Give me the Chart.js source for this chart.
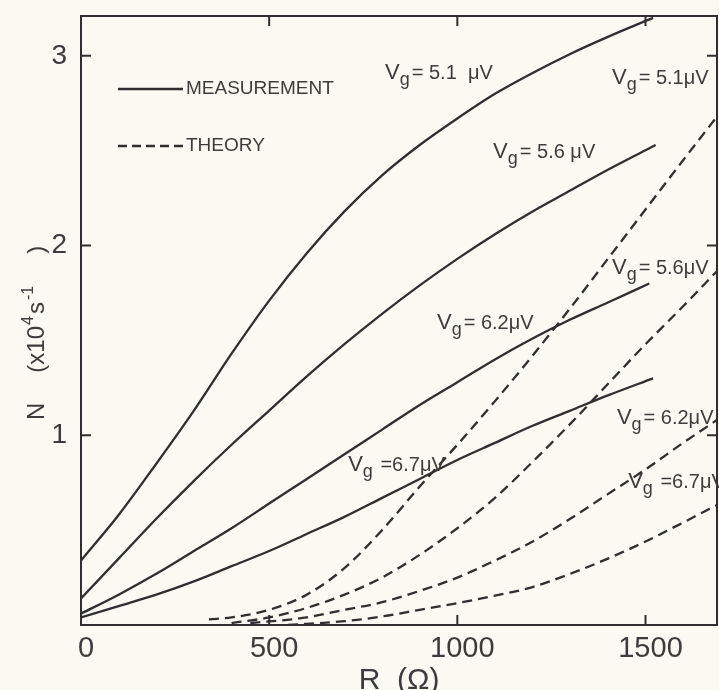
<!DOCTYPE html>
<html>
<head>
<meta charset="utf-8">
<script src="https://cdn.jsdelivr.net/npm/chart.js@4.4.1/dist/chart.umd.min.js"></script>
<style>
	html, body { margin: 0; padding: 0; background: #fafaf2; }
	#wrap { width: 719px; height: 690px; }
</style>
</head>
<body>
<div id="wrap"><canvas id="nChart" width="719" height="690"></canvas></div>
<script>
const meas51R = [0, 100, 200, 300, 400, 500, 600, 700, 800, 900, 1000, 1100, 1200, 1300, 1400, 1520];
const meas51N = [0.34, 0.58, 0.85, 1.13, 1.43, 1.71, 1.96, 2.18, 2.37, 2.53, 2.67, 2.80, 2.91, 3.01, 3.10, 3.20];
const meas56R = [0, 100, 200, 300, 400, 500, 600, 700, 800, 900, 1000, 1100, 1200, 1300, 1400, 1527];
const meas56N = [0.14, 0.35, 0.56, 0.76, 0.95, 1.13, 1.31, 1.48, 1.64, 1.79, 1.93, 2.06, 2.18, 2.29, 2.40, 2.53];
const meas62R = [0, 100, 200, 300, 400, 500, 600, 700, 800, 900, 1000, 1100, 1200, 1300, 1400, 1510];
const meas62N = [0.06, 0.16, 0.27, 0.39, 0.51, 0.64, 0.77, 0.90, 1.03, 1.16, 1.28, 1.40, 1.51, 1.61, 1.70, 1.80];
const meas67R = [0, 100, 200, 300, 400, 500, 600, 700, 800, 900, 1000, 1100, 1200, 1300, 1400, 1520];
const meas67N = [0.04, 0.10, 0.16, 0.23, 0.31, 0.39, 0.48, 0.57, 0.67, 0.77, 0.87, 0.96, 1.05, 1.13, 1.21, 1.30];

// theory curves
const theo51R = [340, 400, 500, 600, 700, 800, 900, 1000, 1100, 1200, 1300, 1400, 1500, 1600, 1694];
const theo51N = [0.03, 0.04, 0.08, 0.16, 0.30, 0.50, 0.73, 0.95, 1.18, 1.42, 1.67, 1.93, 2.19, 2.45, 2.69];
const theo56R = [400, 500, 600, 700, 800, 900, 1000, 1100, 1200, 1300, 1400, 1500, 1600, 1697];
const theo56N = [0.01, 0.04, 0.09, 0.16, 0.25, 0.37, 0.51, 0.67, 0.86, 1.06, 1.27, 1.48, 1.68, 1.88];
const theo62R = [450, 600, 700, 800, 900, 1000, 1100, 1200, 1300, 1400, 1500, 1600, 1697];
const theo62N = [0.01, 0.04, 0.08, 0.12, 0.18, 0.25, 0.34, 0.44, 0.56, 0.69, 0.82, 0.96, 1.09];
const theo67R = [550, 700, 800, 900, 1000, 1100, 1200, 1300, 1400, 1500, 1600, 1697];
const theo67N = [0.0, 0.02, 0.045, 0.08, 0.115, 0.155, 0.20, 0.27, 0.35, 0.44, 0.54, 0.64];

const xTickVals = [0, 500, 1000, 1500];
const yTickVals = [1, 2, 3];

// curve labels: value part, anchor R, anchor N
const labelVals = ['= 5.1  μV', '= 5.6 μV', '= 5.1μV', '= 5.6μV', '= 6.2μV', ' =6.7μV', '= 6.2μV', ' =6.7μV'];
const labelR = [808, 1095, 1411, 1411, 946, 710, 1424, 1454];
const labelN = [2.88, 2.46, 2.85, 1.85, 1.56, 0.81, 1.06, 0.72];

const ink = '#2f2f2f';
const textInk = '#3c3c3c';
const fontFam = '"Liberation Sans", Arial, sans-serif';

const zip = (r, n) => r.map((v, i) => ({ x: v, y: n[i] }));

function curve(r, n, dashed) {
	return {
		data: zip(r, n),
		borderColor: ink,
		borderWidth: 2.3,
		borderDash: dashed ? [10, 6] : [],
		pointRadius: 0,
		fill: false,
		cubicInterpolationMode: 'monotone'
	};
}

const paperPlugin = {
	id: 'paper',
	beforeDraw(chart) {
		const ctx = chart.ctx;
		ctx.save();
		ctx.fillStyle = '#fafaf2';
		ctx.fillRect(0, 0, chart.width, chart.height);
		ctx.restore();
	},
	afterDraw(chart) {
		const { ctx, chartArea: a, scales: { x, y } } = chart;
		ctx.save();
		ctx.strokeStyle = ink;
		ctx.lineWidth = 2;
		ctx.setLineDash([]);
		ctx.strokeRect(a.left, a.top, a.right - a.left, a.bottom - a.top);

		// inward ticks on all four sides
		ctx.beginPath();
		xTickVals.filter(v => v > 0).forEach(v => {
			const px = x.getPixelForValue(v);
			ctx.moveTo(px, a.bottom); ctx.lineTo(px, a.bottom - 10);
			ctx.moveTo(px, a.top); ctx.lineTo(px, a.top + 10);
		});
		yTickVals.forEach(v => {
			const py = y.getPixelForValue(v);
			ctx.moveTo(a.left, py); ctx.lineTo(a.left + 10, py);
			ctx.moveTo(a.right, py); ctx.lineTo(a.right - 10, py);
		});
		ctx.stroke();

		// curve labels  V_g = ...
		ctx.fillStyle = textInk;
		ctx.textBaseline = 'alphabetic';
		labelVals.forEach((txt, i) => {
			let px = x.getPixelForValue(labelR[i]);
			const py = y.getPixelForValue(labelN[i]);
			ctx.font = '22px ' + fontFam;
			ctx.fillText('V', px, py);
			px += ctx.measureText('V').width;
			ctx.font = '18px ' + fontFam;
			ctx.fillText('g', px, py + 6);
			px += ctx.measureText('g').width + 2;
			ctx.font = '20px ' + fontFam;
			ctx.fillText(txt, px, py);
		});

		// legend
		ctx.lineWidth = 2.3;
		ctx.beginPath();
		ctx.moveTo(118, 89); ctx.lineTo(183, 89);
		ctx.stroke();
		ctx.setLineDash([9, 5]);
		ctx.beginPath();
		ctx.moveTo(118, 146); ctx.lineTo(183, 146);
		ctx.stroke();
		ctx.setLineDash([]);
		ctx.font = '19px ' + fontFam;
		ctx.textBaseline = 'middle';
		ctx.fillText('MEASUREMENT', 186, 89);
		ctx.fillText('THEORY', 186, 146);

		// y axis title, rotated, with raised exponents
		ctx.translate(44, 420);
		ctx.rotate(-Math.PI / 2);
		ctx.textBaseline = 'alphabetic';
		const big = '24px ' + fontFam, small = '16px ' + fontFam;
		let tx = 0;
		const put = (s, f, dy, gap) => {
			ctx.font = f;
			ctx.fillText(s, tx, dy);
			tx += ctx.measureText(s).width + gap;
		};
		put('N', big, 0, 30);
		put('(x10', big, 0, 1);
		put('4', small, -11, 2);
		put('s', big, 0, 2);
		put('-1', small, -11, 32);
		put(')', big, 0, 0);
		ctx.restore();
	}
};

const ctx = document.getElementById('nChart').getContext('2d');
const nChart = new Chart(ctx, {
	type: 'line',
	data: {
		datasets: [
			curve(meas51R, meas51N, false),
			curve(meas56R, meas56N, false),
			curve(meas62R, meas62N, false),
			curve(meas67R, meas67N, false),
			curve(theo51R, theo51N, true),
			curve(theo56R, theo56N, true),
			curve(theo62R, theo62N, true),
			curve(theo67R, theo67N, true)
		]
	},
	options: {
		responsive: false,
		animation: false,
		layout: { padding: { top: 0, right: 2, left: 0, bottom: 0 } },
		plugins: {
			legend: { display: false },
			tooltip: { enabled: false }
		},
		scales: {
			x: {
				type: 'linear',
				min: 0,
				max: 1690,
				afterBuildTicks: s => { s.ticks = xTickVals.map(v => ({ value: v })); },
				afterFit: s => { s.height = 65; },
				grid: { display: false, drawTicks: false },
				border: { display: false },
				ticks: {
					font: { family: fontFam, size: 29 },
					color: textInk,
					padding: 7,
					labelOffset: 5,
					maxRotation: 0,
					autoSkip: false,
					callback: v => String(v)
				},
				title: {
					display: true,
					text: 'R  (Ω)',
					font: { family: fontFam, size: 30 },
					color: textInk,
					padding: { top: 0, bottom: -9 }
				}
			},
			y: {
				type: 'linear',
				min: 0,
				max: 3.21,
				afterBuildTicks: s => { s.ticks = yTickVals.map(v => ({ value: v })); },
				afterFit: s => { s.width = 81; s.paddingTop = 16; s.paddingBottom = 0; },
				grid: { display: false, drawTicks: false },
				border: { display: false },
				ticks: {
					font: { family: fontFam, size: 28 },
					color: textInk,
					padding: 14,
					callback: v => String(v)
				}
			}
		}
	},
	plugins: [paperPlugin]
});
</script>
</body>
</html>
